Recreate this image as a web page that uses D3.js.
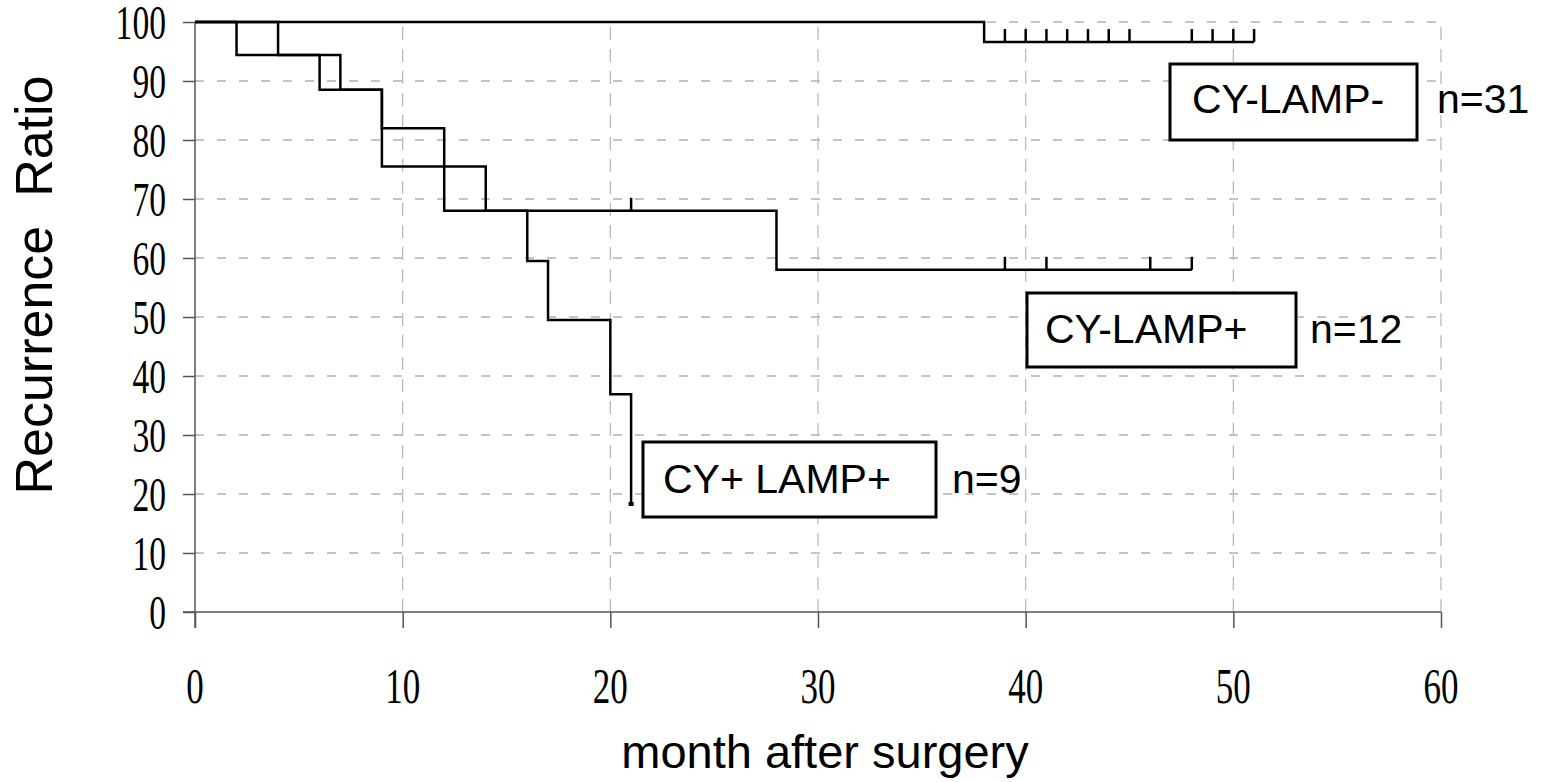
<!DOCTYPE html>
<html>
<head>
<meta charset="utf-8">
<script src="https://cdn.jsdelivr.net/npm/d3@7"></script>
<style>
  html, body { margin: 0; padding: 0; background: #fff; }
  svg { display: block; }
</style>
</head>
<body>
<div id="chart"></div>
<script>
(function (d3) {
    "use strict";

    /***** Données *****/

    const groupNames = ["CY-LAMP-", "CY-LAMP+", "CY+ LAMP+"];
    const groupCounts = ["n=31", "n=12", "n=9"];

    // CY-LAMP-
    const negTimes = [0, 38, 51];
    const negValues = [100, 96.6, 96.6];
    const negCensor = [39, 40, 41, 42, 43, 44, 45, 48, 49, 50, 51];

    // CY-LAMP+
    const lampTimes = [0, 4, 7, 9, 12, 28, 48];
    const lampValues = [100, 94.4, 88.5, 82, 68, 58, 58];
    const lampCensor = [21, 39, 41, 46, 48];

    // CY+ LAMP+
    const cyTimes = [0, 2, 6, 9, 14, 16, 17, 20, 21];
    const cyValues = [100, 94.4, 88.5, 75.5, 68, 59.5, 49.5, 36.9, 18.3];
    const cyCensor = [];

    const xTicks = [0, 10, 20, 30, 40, 50, 60];
    const yTicks = [0, 10, 20, 30, 40, 50, 60, 70, 80, 90, 100];

    /***** Configuration *****/

    const width = 1549, height = 782;
    const plot = { left: 195, right: 1441, top: 22, bottom: 612 };

    // boîtes de légende (pixels)
    const boxes = [
        { x: 1170, y: 64, w: 247, h: 76, tx: 1192, ty: 113, nx: 1437 },
        { x: 1027, y: 293, w: 269, h: 74, tx: 1045, ty: 343, nx: 1310 },
        { x: 643, y: 442, w: 293, h: 75, tx: 663, ty: 493, nx: 952 }
    ];

    var x = d3.scaleLinear().domain([0, 60]).range([plot.left, plot.right]);
    var y = d3.scaleLinear().domain([0, 100]).range([plot.bottom, plot.top]);

    var svg = d3.select("#chart").append("svg")
        .attr("width", width)
        .attr("height", height);

    /***** Grille *****/

    svg.append("g").selectAll("line")
        .data(yTicks.filter(d => d > 0))
        .join("line")
        .attr("x1", plot.left).attr("x2", plot.right)
        .attr("y1", d => y(d)).attr("y2", d => y(d))
        .attr("stroke", "#8a8a8a")
        .attr("stroke-width", 1.2)
        .attr("stroke-dasharray", "9,13");

    svg.append("g").selectAll("line")
        .data(xTicks.filter(d => d > 0))
        .join("line")
        .attr("x1", d => x(d)).attr("x2", d => x(d))
        .attr("y1", plot.bottom).attr("y2", plot.top)
        .attr("stroke", "#b5b5b5")
        .attr("stroke-width", 1.2)
        .attr("stroke-dasharray", "13,9");

    /***** Axes *****/

    var axisColor = "#555";
    var xAxis = d3.axisBottom(x).tickValues(xTicks).tickSize(16).tickFormat("");
    var yAxis = d3.axisLeft(y).tickValues(yTicks).tickSize(12).tickFormat("");

    var gx = svg.append("g")
        .attr("transform", "translate(0," + plot.bottom + ")")
        .call(xAxis);
    gx.select(".domain").remove();
    gx.append("line")
        .attr("x1", plot.left - 12).attr("x2", plot.right)
        .attr("y1", 0).attr("y2", 0);

    var gy = svg.append("g")
        .attr("transform", "translate(" + plot.left + ",0)")
        .call(yAxis);
    gy.select(".domain").remove();
    gy.append("line")
        .attr("x1", 0).attr("x2", 0)
        .attr("y1", plot.top).attr("y2", plot.bottom + 16);

    svg.selectAll(".tick line").attr("stroke", axisColor).attr("stroke-width", 1.5);
    gx.select(":scope > line").attr("stroke", axisColor).attr("stroke-width", 1.5);
    gy.select(":scope > line").attr("stroke", axisColor).attr("stroke-width", 1.5);

    // libellés des graduations (police serif étroite)
    var serif = "'Liberation Serif', 'Times New Roman', serif";

    svg.append("g").selectAll("text")
        .data(yTicks)
        .join("text")
        .attr("transform", d => "translate(166," + (y(d) + 17) + ") scale(0.7,1)")
        .attr("text-anchor", "end")
        .attr("font-family", serif)
        .attr("font-size", 48)
        .attr("fill", "#000")
        .text(d => d);

    svg.append("g").selectAll("text")
        .data(xTicks)
        .join("text")
        .attr("transform", d => "translate(" + x(d) + ",703) scale(0.7,1)")
        .attr("text-anchor", "middle")
        .attr("font-family", serif)
        .attr("font-size", 50)
        .attr("fill", "#000")
        .text(d => d);

    var sans = "'Liberation Sans', Arial, sans-serif";

    svg.append("text")
        .attr("x", 825).attr("y", 768)
        .attr("text-anchor", "middle")
        .attr("font-family", sans)
        .attr("font-size", 47)
        .text("month after surgery");

    svg.append("text")
        .attr("transform", "translate(52,285) rotate(-90)")
        .attr("text-anchor", "middle")
        .attr("font-family", sans)
        .attr("font-size", 52)
        .attr("xml:space", "preserve")
        .style("white-space", "pre")
        .text("Recurrence  Ratio");

    /***** Courbes *****/

    var series = [
        { times: negTimes, values: negValues, censor: negCensor },
        { times: lampTimes, values: lampValues, censor: lampCensor },
        { times: cyTimes, values: cyValues, censor: cyCensor }
    ];

    function valueAt(s, t) {
        var v = s.values[0];
        s.times.forEach(function (tt, i) { if (tt <= t) v = s.values[i]; });
        return v;
    }

    var line = d3.line()
        .x(d => x(d[0]))
        .y(d => y(d[1]))
        .curve(d3.curveStepAfter);

    var curves = svg.append("g");
    series.forEach(function (s) {
        var pts = s.times.map((t, i) => [t, s.values[i]]);
        curves.append("path")
            .attr("d", line(pts))
            .attr("fill", "none")
            .attr("stroke", "#000")
            .attr("stroke-width", 2.5);

        curves.selectAll(null)
            .data(s.censor)
            .join("line")
            .attr("x1", d => x(d)).attr("x2", d => x(d))
            .attr("y1", d => y(valueAt(s, d)))
            .attr("y2", d => y(valueAt(s, d)) - 13)
            .attr("stroke", "#000")
            .attr("stroke-width", 2.5);
    });

    // petit carré en fin de la courbe CY+ LAMP+
    var lastT = cyTimes[cyTimes.length - 1], lastV = cyValues[cyValues.length - 1];
    curves.append("rect")
        .attr("x", x(lastT) - 2.5).attr("y", y(lastV) - 2)
        .attr("width", 5).attr("height", 4)
        .attr("fill", "#000");

    /***** Légendes *****/

    var leg = svg.append("g").selectAll("g")
        .data(boxes)
        .join("g");

    leg.append("rect")
        .attr("x", d => d.x).attr("y", d => d.y)
        .attr("width", d => d.w).attr("height", d => d.h)
        .attr("fill", "#fff")
        .attr("stroke", "#000")
        .attr("stroke-width", 3);

    leg.append("text")
        .attr("x", d => d.tx).attr("y", d => d.ty)
        .attr("font-family", sans)
        .attr("font-size", 41)
        .attr("xml:space", "preserve")
        .text((d, i) => groupNames[i]);

    leg.append("text")
        .attr("x", d => d.nx).attr("y", d => d.ty)
        .attr("font-family", sans)
        .attr("font-size", 41)
        .text((d, i) => groupCounts[i]);

})(d3);
</script>
</body>
</html>
